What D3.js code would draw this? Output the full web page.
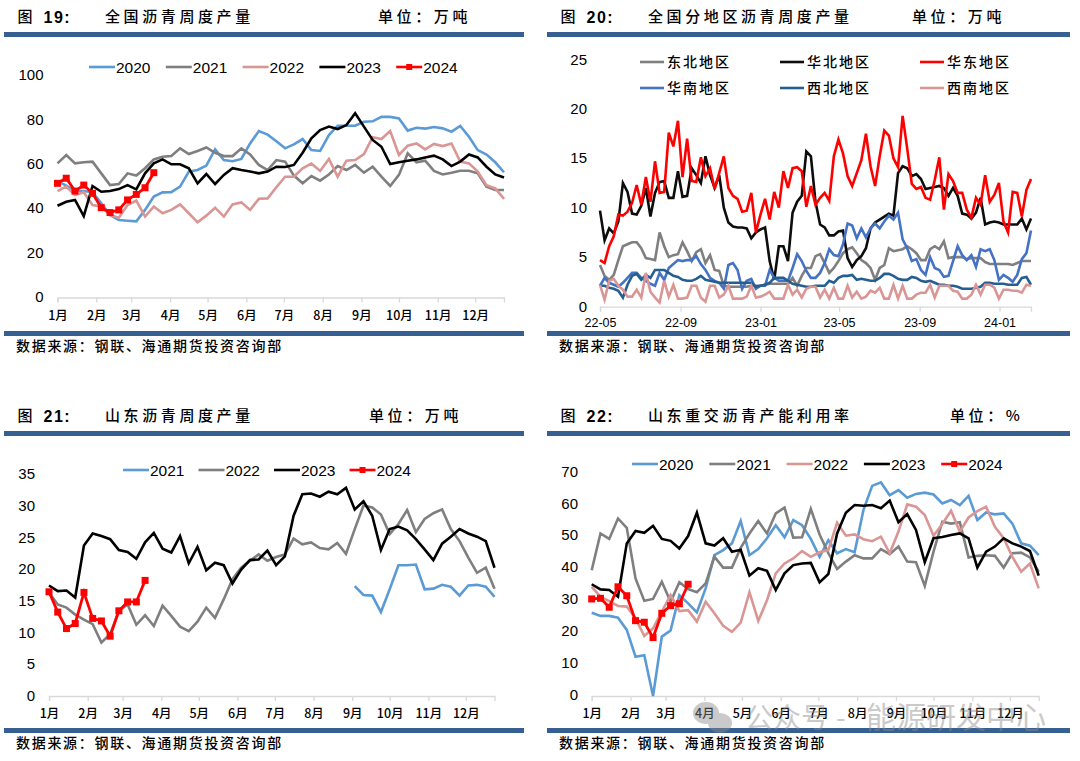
<!DOCTYPE html>
<html lang="zh-CN">
<head>
    <meta charset="UTF-8">
    <title>沥青周度产量</title>
    <style>
        body{ margin: 0; background: #fff; }
        svg{ display: block; }
        .num{ font-family: "Liberation Sans", Arial, sans-serif; fill: #000; }
        .cjk{ font-family: "Noto Sans CJK SC", sans-serif; fill: #000; }
    </style>
    <script src="https://d3js.org/d3.v7.min.js"></script>
</head>
<body>
    <script>
        // 图19 全国沥青周度产量
        var national2020 = [53,51,48.5,48.5,48,43,37.7,35.4,35.1,34.8,40,46,47.9,48,50.5,57.3,58,60,67.3,62.5,62,63,70,75.6,74,71,67.8,69.6,72,67,66.6,73.8,78,78,78,79.8,80,82,82,81.3,75.8,77.1,76.7,77.4,76.8,75.3,77.9,73,67,65,61.5,57];
        var national2021 = [61,64.8,61,61.5,61.8,56.5,51.2,51.7,56.5,55.5,58.8,62.8,64,64.3,67.8,65.2,66.6,68.2,65.8,64.3,64.3,67.8,65,60.3,58,62.5,61.8,55.5,52,55.3,53.2,56,59.8,58,60.3,56.8,59.5,55,50.8,55.8,65.5,61.5,62.2,57.6,56,56.8,57.7,57.7,56.5,50.5,49,49];
        var national2022 = [48.5,50.5,46.7,48,42.2,41.5,37.7,36.5,42.2,44.2,37,41.5,38.5,40,42.5,38.5,34.4,37.4,41,37,42.5,43.4,40,45,45.2,50.2,55,55,58.8,60.9,57.6,63,55,62.2,62.5,65.2,72.8,72,75.6,64.8,69,70,67.3,69.8,68.8,70,61.8,61,57.3,51.2,49.7,45];
        var national2023 = [41.9,43.7,44.5,37.2,50.8,48.2,48.5,49.4,51.2,49.3,56.5,61,62.8,60.6,60.6,58.8,52,56.2,51.7,55.8,58.8,58,57.3,56.5,57.3,59.5,59.4,60.3,65.8,72.3,76,77.6,76.5,78.3,83.6,77.6,71.6,68.5,60.7,61.5,62.2,62.8,63.7,64.5,62.8,59.8,61.8,65,63.7,59.5,56,54.6];
        var national2024 = [52,54.3,48.5,51.2,47.5,41,38.8,40,44.5,47,50,56.8];

        // 图20 全国分地区沥青周度产量
        var regionNortheast = [4.3,3.2,2.8,3.3,4.8,6.2,6.4,6.6,6.6,6, 5,4.9,4.8,7.6,6.2,5.1,5.3,5.4,6.6,5.7, 4.7,5.6,5.9,4.5,5.3,3.8,3.7,2.2,2.1,2.1, 2.1,2.1,2.1,2.2,2.2,2.2,2.3,2.4,2.4,2.4, 2.4,2.4,3,2.2,3.2,4,4,5.2,5.4,4.5, 3.5,4,4.7,5.5,5.9,6.1,5.5,4.8,4.5,4, 2.8,4,4.3,6,5.7,5.8,5.9,6.2,5.9,5.5, 4.8,4.8,5.9,6.2,5.9,6.7,5,5.1,5.1,5.1, 4.9,5,5,5,4.6,4.4,4.4,4.4,4.4,4.4, 4.3,4.5,4.7,4.7,4.7];
        var regionNorth = [9.8,6.8,8,7.5,8.7,12.6,11.7,9.5,9.4,10.3, 12.1,9.2,11.6,12.7,12.8,11.1,11.1,13.8,11.2,11.3, 14.1,13.4,12.6,15.3,13.4,12.1,13.4,10.1,8.6,8.2, 8.1,8.1,8,7,7.6,7.9,8.1,4.7,2.8,6.2, 6.2,4.7,9.6,10.7,11.3,15.8,15.3,10.7,8.4,8.1, 7.3,7.3,7.7,7.8,5,4.1,4.8,5.2,6,8, 8.6,8.9,9.2,9.5,9.3,13.6,14.3,14.1,13.3,13.5, 13,12,12.1,12.2,12.3,12.1,11.3,12.1,11.3,9.5, 9.4,9,9.6,11.1,8.4,8.6,8.7,8.6,8.4,8.4, 8.4,8.4,9,7.9,9];
        var regionEast = [4.8,4.5,6.2,7.2,9.4,9.3,9.7,10.6,12.4,10.4, 13.2,10.7,14.8,11.6,11.7,17.7,16.3,18.9,13.2,17.1, 12.8,12.7,15.2,13.3,14.1,12,13.6,15.3,12.1,11.3, 11,9.7,9.8,11.6,7.6,9.4,11,8.9,11.7,10.1, 13.8,12.1,14.1,14.2,13.8,10.2,12.3,10.4,11.1,11.6, 10.8,15.3,17,15.6,13.3,12.3,13.6,14.9,17.6,14.3, 12.3,15.3,17.9,17.4,15.1,14.2,19.4,16.1,12.5,12, 12.2,11.1,10.9,12.9,15.2,9.9,13.5,12.8,11.6,11.6, 9.9,9.1,11.1,10.4,13.4,10.7,11.4,12.6,8.7,7.6, 11.7,11.6,9.2,11.9,13];
        var regionSouth = [2.2,3,2.5,2.3,2.1,2.5,3,3.5,3.5,3, 2.7,2.4,2.2,3.5,2.8,4,4.4,4.8,4.7,4.8, 4.8,5.2,4.4,3.8,3,2.7,2.5,1.9,4.3,4.5, 3.8,1.9,2.7,2.9,1.9,2.2,2.2,3.8,3,2.7, 2.7,2.7,4,5.4,4.7,3.7,3,3,3.5,4.5, 5.9,5.3,5.2,6.4,8.5,8.3,7,8,7.1,8, 8.5,8,8.7,9.3,8.9,9.6,6.9,6,4.7,4.9, 3.8,3.3,5.1,4,3.8,3.1,3.2,4.7,6.2,5.3, 4.8,5.3,4.1,5.9,5.7,5.9,4.8,2.8,3.3,3, 2.6,3.3,4.9,5.5,7.8];
        var regionNorthwest = [2.2,2.2,2,1.9,1.7,1,2.3,3.2,3.4,2.8, 3.3,3,3.8,3.8,3.8,3.5,3.2,3.1,2.8,2.7, 2.7,2.9,3.2,2.8,2.7,2.6,2.5,2.5,2.5,2.5, 2.5,2.5,2.5,2.5,2.1,2.2,2.3,2.5,3,3, 3,2.7,2.4,2.3,2.2,2.1,2.1,2.2,2.2,2.2, 2.7,2.5,3,3.2,3.2,3.3,2.8,2.9,2.8,2.7, 2.7,3,3.4,3.4,3.2,2.9,2.8,2.8,3.1,3, 2.7,2.6,2.7,2.5,2.3,2.3,2.2,2.2,2.1,1.9, 1.9,1.9,2,2.1,2.5,2.5,2.4,2.4,2.4,2.3, 2.3,2.3,3,3.1,2.3];
        var regionSouthwest = [2.3,0.8,2.7,2.9,2.2,1.8,1.1,1.1,1.8,1, 3.5,1.6,1,0.5,2.7,1.1,2.3,0.9,0.9,1, 2.2,2.2,1,0.6,2.2,2.2,1,1.3,2.2,0.9, 0.9,0.9,1.1,2.2,1,1.1,1.3,1.6,0.9,0.9, 0.9,2.3,1.3,1.8,1,1.9,2.1,2.1,1,1.8, 0.9,2,0.9,0.9,2.2,1,1.6,0.9,1.1,1.7, 1.5,2,0.9,0.9,2.3,0.9,2.2,0.9,0.9,1.3, 1.5,1.5,2.3,1,2.2,2.2,2.2,1.7,1.6,0.9, 0.9,1.3,2.3,1.3,2.3,2.3,2,0.9,1.8,1.8, 1.7,1.7,1.5,2.3,2.2];

        // 图21 山东沥青周度产量
        var shandong2021 = [null,null,null,null,null,null,null,null,null,null,null,null,null,null,null,null,null,null,null,null,null,null,null,null,null,null,null,null,null,null,null,null,null,null,null,17.5,16.1,16,13.4,17,20.8,20.8,20.9,17,17.1,17.7,17.4,16,17.6,17.7,17.4,15.8];
        var shandong2022 = [16.5,14.6,14.1,13,12.2,11.5,8.6,9.9,13.6,14.6,11.4,12.9,11.2,14.4,12.8,11.1,10.4,11.9,14.1,12.5,15.4,18.6,20.4,21.5,22.5,21.5,22.1,22.5,25,24.1,24.4,23.5,23.3,24.3,22.6,26.5,30.2,29.9,28.8,25.7,27.3,29.5,26,28.1,29,29.6,26.5,24.6,22,19.6,20.4,17.1];
        var shandong2023 = [17.6,16.7,16.8,15.7,23.9,25.8,25.4,24.9,23.2,22.9,21.8,24.4,25.9,23.4,22.8,25.4,21.1,23.7,20,21.2,20.8,17.9,20.1,21.6,21.7,23.1,20.8,22.2,28.6,32,32.1,31.6,32.4,32,33,29.6,30.9,28.6,23.2,26.5,26.9,26.3,24.9,23.3,21.6,24.2,25.3,26.5,25.8,25.3,24.6,20.4];
        var shandong2024 = [16.6,13.4,10.8,11.6,16.5,12.4,12,9.6,13.6,15,15,18.4];

        // 图22 山东重交沥青产能利用率
        var rate2020 = [26.1,25.1,25.1,24.5,20.7,12.3,12.8,0,18.6,20.5,31.6,29,26.2,33.7,44.1,45.7,47.8,54.8,44.1,46,49.4,53.5,49.7,55.1,53.5,49.2,43.6,48.8,44.7,46,45,58.2,65.8,66.9,62.9,64.5,62.1,63.3,63.7,63.1,60.3,61.4,59.8,62.7,55.1,57.5,56.9,57.2,54,47.8,47.1,44.1];
        var rate2021 = [39.4,50.9,49.2,55.6,52.7,36.8,29.8,30.4,35.8,29.5,35.6,33.5,32.5,35.3,43.6,40.2,40.2,46.4,50.9,54.8,50.9,57.2,59,49.6,49.7,58.6,50.6,44.7,39.8,42.1,44.1,43.1,43.1,46,44.4,46.8,42.1,41.9,34.5,45.2,54.6,54,54.4,43.4,43.9,44.1,43.9,40.2,44.7,44.9,43.4,38.9];
        var rate2022 = [34.2,31.1,29.7,28.2,28,24.3,18.8,21.2,26.4,31.6,26.6,26.9,23.3,29.5,25.9,22,20.1,23,32.5,23.5,30,38.4,41.5,43.1,45.4,43.6,45,45.7,54.3,50.2,50.6,49.1,48.5,49.9,44.7,51.5,60,59.3,56.7,50.2,53.9,58,51.5,55.9,57.9,59.3,53,49.4,43.6,38.9,41.5,33.7];
        var rate2023 = [35,33.4,33.2,31.1,47.8,51.7,51.1,53.3,49.2,48.6,46.2,50.1,57.4,47.8,47.1,49.4,45.2,45.8,37.7,40,39.2,33.2,38.4,41,41.5,41.7,35.6,38.2,50.9,57.4,59.8,59.6,59.8,58.8,61.2,54.4,57,52,41.9,49.4,49.8,50.4,50.9,49.4,40.2,45.2,46.8,49.4,47.8,46.8,45.4,37.7];
        var rate2024 = [30.4,30.6,27.8,34.2,31.4,23.6,23.1,18.3,25.9,28.3,28.9,35];

        var yearTicks = [0, 20, 40, 60, 80, 100];
        var regionTicks = [0, 5, 10, 15, 20, 25];
        var shandongTicks = [0, 5, 10, 15, 20, 25, 30, 35];
        var rateTicks = [0, 10, 20, 30, 40, 50, 60, 70];
        var monthLabels = ["1月","2月","3月","4月","5月","6月","7月","8月","9月","10月","11月","12月"];
        var regionMonths = ["22-05","22-09","23-01","23-05","23-09","24-01"];
        var regionNames = ["东北地区","华北地区","华东地区","华南地区","西北地区","西南地区"];

        var BLUE = "#5B9BD5", GRAY = "#7F7F7F", PINK = "#D99694", BLACK = "#000000", RED = "#FF0000";
        var RULE = "#376092";
        var SOURCE = "数据来源：钢联、海通期货投资咨询部";

        var svg = d3.select("body").append("svg").attr("width", 1080).attr("height", 761);
        svg.append("rect").attr("width", 1080).attr("height", 761).attr("fill", "#fff");

        function label(x, y, str, size, cls, spacing, weight) {
            return svg.append("text")
                .attr("class", cls)
                .attr("x", x)
                .attr("y", y)
                .attr("dy", "0.36em")
                .attr("font-size", size)
                .attr("font-weight", weight || 400)
                .attr("letter-spacing", spacing || 0)
                .text(str);
        }

        // frame around a panel: title row, two rules, source note
        function frame(p) {
            label(p.left + 13.5, p.titleY, "图", 15, "cjk", 0, 500);
            label(p.left + 39.5, p.titleY, p.num + ":", 16, "num", 1.5, 700);
            label(p.titleX, p.titleY, p.title, 15, "cjk", 3.6, 500);
            label(p.unitX, p.titleY, p.unit, 15, "cjk", 3.6, 500);
            svg.append("rect").attr("x", p.left).attr("y", p.titleY + 15).attr("width", p.ruleW).attr("height", 5).attr("fill", RULE);
            svg.append("rect").attr("x", p.left).attr("y", p.footY).attr("width", p.ruleW).attr("height", 5).attr("fill", RULE);
            label(p.left + 12, p.footY + 15, SOURCE, 14, "cjk", 1.7, 500);
        }

        function drawSeries(g, x, y, list) {
            var line = d3.line()
                .defined(function(d) { return d != null; })
                .x(function(d, i) { return x(d3.utcDay.offset(list.start, i * 7)); })
                .y(function(d) { return y(d); });
            list.items.forEach(function(s) {
                g.append("path")
                    .attr("d", line(s.values))
                    .attr("fill", "none")
                    .attr("stroke", s.color)
                    .attr("stroke-width", s.marker ? 2.8 : 2.6)
                    .attr("stroke-linejoin", "miter");
                if (s.marker) {
                    g.selectAll(null)
                        .data(s.values)
                        .enter()
                        .append("rect")
                        .attr("x", function(d, i) { return x(d3.utcDay.offset(list.start, i * 7)) - 3.5; })
                        .attr("y", function(d) { return y(d) - 3.5; })
                        .attr("width", 7)
                        .attr("height", 7)
                        .attr("fill", s.color);
                }
            });
        }

        function drawAxes(p, x, y) {
            var xg = svg.append("g").attr("transform", "translate(0," + p.axisY + ")")
                .call(d3.axisBottom(x).tickValues(p.tickDates).tickSize(5).tickPadding(p.xPad).tickFormat(function(d, i) { return p.tickLabels[i]; }));
            xg.selectAll("path,line").attr("stroke", "#D9D9D9").attr("stroke-width", 1.3);
            xg.selectAll("text").attr("class", p.xFontClass).attr("font-size", p.xFont).attr("font-weight", p.xWeight).attr("fill", "#000");

            var yg = svg.append("g").attr("transform", "translate(" + p.yLabelX + "," + p.yLabelShift + ")")
                .call(d3.axisLeft(y).tickValues(p.yTicks).tickSize(0).tickPadding(0));
            yg.select(".domain").remove();
            yg.selectAll("text").attr("class", "num").attr("font-size", 15).attr("fill", "#000");
        }

        function yearLegend(items, startX, step, yPos) {
            items.forEach(function(s, i) {
                var lx = startX + i * step;
                svg.append("line").attr("x1", lx).attr("x2", lx + 26).attr("y1", yPos).attr("y2", yPos)
                    .attr("stroke", s.color).attr("stroke-width", 2.6);
                if (s.marker) {
                    svg.append("rect").attr("x", lx + 10).attr("y", yPos - 3).attr("width", 6).attr("height", 6).attr("fill", s.color);
                }
                label(lx + 27, yPos, s.name, 15.5, "num");
            });
        }

        function monthStarts() {
            return d3.range(0, 12).map(function(m) { return new Date(Date.UTC(2023, m, 1)); });
        }

        function weekScale(start, points, a, b) {
            return d3.scaleUtc().domain([start, d3.utcDay.offset(start, (points - 1) * 7)]).range([a, b]);
        }

        var yearStart = new Date(Date.UTC(2023, 0, 1));

        // 图19
        frame({ left: 4, ruleW: 520, titleY: 17, num: "19", title: "全国沥青周度产量", titleX: 105, unit: "单位：万吨", unitX: 378, footY: 331 });
        var x19 = weekScale(yearStart, 52, 57.5, 504);
        var y19 = d3.scaleLinear().domain([0, 100]).range([298.5, 77]);
        drawAxes({ axisY: 297.5, tickDates: monthStarts(), tickLabels: monthLabels, xPad: 9, xFont: 12.5, xWeight: 500, xFontClass: "cjk", yLabelX: 43.5, yLabelShift: -2, yTicks: yearTicks }, x19, y19);
        var items19 = [
            { name: "2020", values: national2020, color: BLUE },
            { name: "2021", values: national2021, color: GRAY },
            { name: "2022", values: national2022, color: PINK },
            { name: "2023", values: national2023, color: BLACK },
            { name: "2024", values: national2024, color: RED, marker: true }
        ];
        drawSeries(svg.append("g"), x19, y19, { start: yearStart, items: items19 });
        yearLegend(items19, 89, 76.8, 67);

        // 图20
        frame({ left: 547, ruleW: 523, titleY: 17, num: "20", title: "全国分地区沥青周度产量", titleX: 648, unit: "单位：万吨", unitX: 912, footY: 331 });
        var regionStart = new Date(Date.UTC(2022, 4, 1));
        var x20 = weekScale(regionStart, 95, 600, 1031);
        var y20 = d3.scaleLinear().domain([0, 25]).range([307.5, 60.5]);
        var regionDates = [new Date(Date.UTC(2022, 4, 1)), new Date(Date.UTC(2022, 8, 1)), new Date(Date.UTC(2023, 0, 1)), new Date(Date.UTC(2023, 4, 1)), new Date(Date.UTC(2023, 8, 1)), new Date(Date.UTC(2024, 0, 1))];
        drawAxes({ axisY: 306.7, tickDates: regionDates, tickLabels: regionMonths, xPad: 6, xFont: 12.5, xWeight: 400, xFontClass: "num", yLabelX: 587, yLabelShift: -1.2, yTicks: regionTicks }, x20, y20);
        var items20 = [
            { name: regionNames[0], values: regionNortheast, color: GRAY },
            { name: regionNames[1], values: regionNorth, color: "#0D0D0D" },
            { name: regionNames[2], values: regionEast, color: RED },
            { name: regionNames[3], values: regionSouth, color: "#4472C4" },
            { name: regionNames[4], values: regionNorthwest, color: "#255E91" },
            { name: regionNames[5], values: regionSouthwest, color: PINK }
        ];
        drawSeries(svg.append("g"), x20, y20, { start: regionStart, items: items20 });
        items20.forEach(function(s, i) {
            var lx = 640 + (i % 3) * 140;
            var ly = i < 3 ? 62 : 88;
            svg.append("line").attr("x1", lx).attr("x2", lx + 24).attr("y1", ly).attr("y2", ly)
                .attr("stroke", s.color).attr("stroke-width", 2.6);
            label(lx + 27, ly, s.name, 14, "cjk", 2, 500);
        });

        // 图21
        frame({ left: 4, ruleW: 520, titleY: 416, num: "21", title: "山东沥青周度产量", titleX: 105, unit: "单位：万吨", unitX: 369, footY: 728 });
        var x21 = weekScale(yearStart, 52, 49, 494.5);
        var y21 = d3.scaleLinear().domain([0, 35]).range([697, 475.2]);
        drawAxes({ axisY: 696, tickDates: monthStarts(), tickLabels: monthLabels, xPad: 8, xFont: 12.5, xWeight: 500, xFontClass: "cjk", yLabelX: 35, yLabelShift: -1.2, yTicks: shandongTicks }, x21, y21);
        var items21 = [
            { name: "2021", values: shandong2021, color: BLUE },
            { name: "2022", values: shandong2022, color: GRAY },
            { name: "2023", values: shandong2023, color: BLACK },
            { name: "2024", values: shandong2024, color: RED, marker: true }
        ];
        drawSeries(svg.append("g"), x21, y21, { start: yearStart, items: items21 });
        yearLegend(items21, 123, 75.5, 470);

        // 图22
        frame({ left: 547, ruleW: 523, titleY: 416, num: "22", title: "山东重交沥青产能利用率", titleX: 648, unit: "单位：%", unitX: 950, footY: 728 });
        var x22 = weekScale(yearStart, 52, 591.7, 1038.7);
        var y22 = d3.scaleLinear().domain([0, 70]).range([696, 472.5]);
        drawAxes({ axisY: 696, tickDates: monthStarts(), tickLabels: monthLabels, xPad: 8, xFont: 12.5, xWeight: 500, xFontClass: "cjk", yLabelX: 578, yLabelShift: -1.2, yTicks: rateTicks }, x22, y22);
        var items22 = [
            { name: "2020", values: rate2020, color: BLUE },
            { name: "2021", values: rate2021, color: GRAY },
            { name: "2022", values: rate2022, color: PINK },
            { name: "2023", values: rate2023, color: BLACK },
            { name: "2024", values: rate2024, color: RED, marker: true }
        ];
        drawSeries(svg.append("g"), x22, y22, { start: yearStart, items: items22 });
        yearLegend(items22, 632, 77.3, 464);

        // watermark over the last panel, it sits on top of the month labels in the source too
        var mark = svg.append("g").attr("opacity", 0.45);
        mark.append("ellipse").attr("cx", 706).attr("cy", 713).attr("rx", 13).attr("ry", 11).attr("fill", "#8c8c8c");
        mark.append("ellipse").attr("cx", 720).attr("cy", 723).attr("rx", 12).attr("ry", 10).attr("fill", "#8c8c8c");
        mark.append("text").attr("class", "cjk").attr("x", 745).attr("y", 728).attr("font-size", 28).style("fill", "#8c8c8c").text("公众号");
        mark.append("text").attr("class", "cjk").attr("x", 836).attr("y", 728).attr("font-size", 28).style("fill", "#8c8c8c").text("-");
        mark.append("text").attr("class", "cjk").attr("x", 866).attr("y", 728).attr("font-size", 30).style("fill", "#8c8c8c").text("能源研发中心");
    </script>
</body>
</html>
